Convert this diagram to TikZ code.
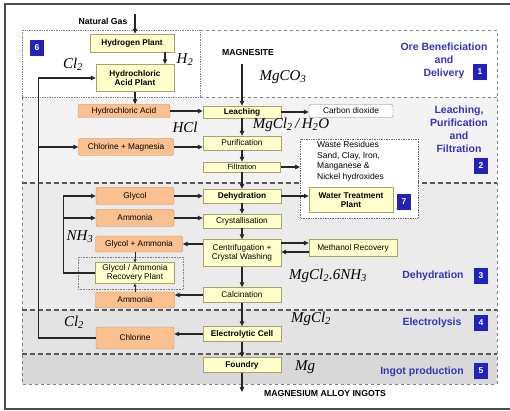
\documentclass[tikz,border=0pt]{standalone}
\usepackage{fontspec}
\setmainfont{Liberation Sans}
\newfontfamily\chemfont{Liberation Serif}
\usepackage{tikz}
\usetikzlibrary{arrows.meta}

\definecolor{boxyellow}{HTML}{FFFFCC}
\definecolor{boxedge}{HTML}{A8A070}
\definecolor{boxorange}{HTML}{FAC090}
\definecolor{orangeedge}{HTML}{C8884E}
\definecolor{badgeblue}{HTML}{2222BB}
\definecolor{titleblue}{HTML}{3535BB}
\definecolor{regtwo}{HTML}{F3F3F3}
\definecolor{regthree}{HTML}{EBEBEB}
\definecolor{regfour}{HTML}{E3E3E3}
\definecolor{regfive}{HTML}{D8D8D8}

\newcommand{\chem}[1]{{\chemfont\itshape\fontsize{15}{15}\selectfont #1}}

\tikzset{
  ybox/.style={draw=boxedge, fill=boxyellow, inner sep=0pt, align=center,
    font=\fontsize{8.3}{9.5}\selectfont},
  boldbox/.style={ybox, font=\bfseries\fontsize{8.3}{9.5}\selectfont},
  obox/.style={draw=orangeedge, fill=boxorange, rounded corners=2pt, inner sep=0pt,
    align=center, font=\fontsize{8.3}{9.5}\selectfont},
  badge/.style={fill=badgeblue, text=white, inner sep=0pt, minimum width=14,
    minimum height=16, font=\bfseries\fontsize{8.5}{8.5}\selectfont},
  regtitle/.style={text=titleblue, align=center, font=\bfseries\fontsize{10.5}{13}\selectfont},
  flow/.style={-{Triangle[length=5pt,width=4.5pt]}, line width=1.1pt, black!85},
  smallflow/.style={-{Triangle[length=3pt,width=3pt]}, line width=0.7pt, black!85},
  regline/.style={dashed, gray, line width=0.7pt},
  darkline/.style={dash pattern=on 5pt off 3pt, black!65, line width=1.1pt},
  plainlabel/.style={font=\bfseries\fontsize{8.7}{10}\selectfont}
}

\begin{document}
\begin{tikzpicture}[x=1pt, y=-1pt]
\useasboundingbox (0,0) rectangle (510,411);

% regions
\fill[regtwo] (22,97) rectangle (497,183);
\fill[regthree] (22,183) rectangle (497,310);
\fill[regfour] (22,310) rectangle (497,354);
\fill[regfive] (22,354) rectangle (497,384);
\draw[densely dotted, gray, line width=0.7pt] (22,30) rectangle (200,97);
\draw[regline] (200,30) -- (497,30) -- (497,384) -- (22,384) -- (22,97);
\draw[regline] (200,97) -- (497,97);
\draw[darkline] (22,183) -- (497,183);
\draw[darkline] (22,310) -- (497,310);
\draw[darkline] (22,354) -- (497,354);
\draw[line width=1.4pt, black!70] (510,4) -- (5,4) -- (5,409) -- (510,409);

% region titles
\node[regtitle] (t1) at (444,61) {Ore Beneficiation\\and\\Delivery};
\node[regtitle] (t2) at (459,129) {Leaching,\\Purification\\and\\Filtration};
\node[regtitle] (t3) at (433,276) {Dehydration};
\node[regtitle] (t4) at (432,323) {Electrolysis};
\node[regtitle] (t5) at (422,372) {Ingot production};
\node[badge] (b1) at (480,72) {1};
\node[badge] (b2) at (481,166) {2};
\node[badge] (b3) at (481,276) {3};
\node[badge] (b4) at (481,323) {4};
\node[badge] (b5) at (481,371) {5};
\node[badge] (b6) at (37,48) {6};

% main column
\node[boldbox, minimum width=78, minimum height=12] (leach) at (242,112) {Leaching};
\node[ybox, minimum width=78, minimum height=14] (purif) at (242,143) {Purification};
\node[ybox, font=\fontsize{7.5}{8.5}\selectfont, minimum width=77, minimum height=10] (filt) at (242,167) {Filtration};
\node[boldbox, minimum width=78, minimum height=14] (dehyd) at (242,196) {Dehydration};
\node[ybox, minimum width=78, minimum height=14] (cryst) at (242,221) {Crystallisation};
\node[ybox, minimum width=78, minimum height=27] (centri) at (242,253) {Centrifugation +\\Crystal Washing};
\node[ybox, minimum width=78, minimum height=15] (calc) at (242,295) {Calcination};
\node[boldbox, minimum width=78, minimum height=15] (elec) at (242,334) {Electrolytic Cell};
\node[boldbox, minimum width=78, minimum height=15] (foundry) at (242,365) {Foundry};

% hydrogen and acid
\node[plainlabel] (gas) at (103,21) {Natural Gas};
\coordinate (gasin) at (135,14);
\node[boldbox, minimum width=84, minimum height=18] (h2plant) at (132,43) {Hydrogen Plant};
\node[boldbox, minimum width=78, minimum height=27] (hclplant) at (135,78) {Hydrochloric\\Acid Plant};
\node[obox, minimum width=92, minimum height=13] (hclacid) at (124,111) {Hydrochloric Acid};
\node[obox, minimum width=95, minimum height=17] (chlmag) at (126,147) {Chlorine + Magnesia};
\node[draw=gray, fill=white, rounded corners=2pt, inner sep=0pt, minimum width=84, minimum height=13,
  font=\fontsize{8.3}{9.5}\selectfont] (co2) at (351,111) {Carbon dioxide};

% magnesite
\node[plainlabel] (magnesite) at (248,53) {MAGNESITE};
\coordinate (magin) at (242,64);

% waste and water
\draw[densely dotted, black!60, fill=white, line width=0.7pt] (300,139) rectangle (418,218);
\node[anchor=north west, align=left, inner sep=0pt, font=\fontsize{8.5}{10.7}\selectfont] (waste) at (317,141)
  {Waste Residues\\Sand, Clay, Iron,\\Manganese \&\\Nickel hydroxides};
\coordinate (wasteedge) at (300,167);
\node[boldbox, minimum width=84, minimum height=25] (wtp) at (351,200) {Water Treatment\\Plant};
\node[badge] (b7) at (404,202) {7};
\node[ybox, minimum width=88, minimum height=17] (meth) at (353,248) {Methanol Recovery};

% glycol and ammonia
\node[obox, minimum width=78, minimum height=17] (glycol) at (135,196) {Glycol};
\node[obox, minimum width=78, minimum height=17] (ammonia1) at (135,218) {Ammonia};
\node[obox, minimum width=87, minimum height=16] (glyam) at (139,244) {Glycol + Ammonia};
\draw[densely dotted, gray, line width=0.6pt] (78,257) rectangle (183,289);
\node[ybox, minimum width=79, minimum height=21] (recov) at (135,273) {Glycol / Ammonia\\Recovery Plant};
\node[obox, minimum width=79, minimum height=16] (ammonia2) at (135,300) {Ammonia};
\node[obox, minimum width=78, minimum height=22] (chlorine) at (135,338) {Chlorine};
\coordinate (ingot) at (242,392);
\node[plainlabel] (ingots) at (325,394) {MAGNESIUM ALLOY INGOTS};

% chemical labels
\node (lh2) at (185,60) {\chem{H\textsubscript{2}}};
\node (lcl2a) at (73,64) {\chem{Cl\textsubscript{2}}};
\node (lmgco) at (283,77) {\chem{MgCO\textsubscript{3}}};
\node (lhcl) at (185,127) {\chem{HCl}};
\node (lmgh) at (291,125) {\chem{MgCl\textsubscript{2}\,/\,H\textsubscript{2}O}};
\node (lnh3) at (80,237) {\chem{NH\textsubscript{3}}};
\node (lmgnh) at (328,276) {\chem{MgCl\textsubscript{2}.6NH\textsubscript{3}}};
\node (lmgcl) at (311,319) {\chem{MgCl\textsubscript{2}}};
\node (lcl2b) at (74,322) {\chem{Cl\textsubscript{2}}};
\node (lmg) at (305,367) {\chem{Mg}};

% connectors
\draw[flow] (gasin) -- ([xshift=3pt]h2plant.north);
\draw[flow] ([xshift=33pt]h2plant.south) -- ([xshift=30pt]hclplant.north);
\draw[flow] (hclplant.south) -- (hclplant.south |- hclacid.north);
\draw[flow] (hclacid.east) -- (hclacid.east -| leach.west);
\draw[flow] (magin) -- (leach.north);
\draw[flow] (leach.east) -- (leach.east -| co2.west);
\draw[flow] (leach) -- (purif);
\draw[flow] (purif) -- (filt);
\draw[flow] (filt) -- (dehyd);
\draw[flow] (dehyd) -- (cryst);
\draw[flow] (cryst) -- (centri);
\draw[flow] (centri) -- (calc);
\draw[flow] (calc) -- (elec);
\draw[flow] (elec) -- (foundry);
\draw[flow] (foundry) -- (ingot);
\draw[flow] (chlmag.east) -- (chlmag.east -| purif.west);
\draw[flow] (filt.east) -- (wasteedge);
\draw[flow] (dehyd.east) -- (dehyd.east -| wtp.west);
\draw[flow] ([yshift=5pt]meth.west -| centri.east) -- ([yshift=5pt]meth.west);
\draw[flow] ([yshift=-4pt]meth.west) -- ([yshift=-4pt]meth.west -| centri.east);
\draw[flow] (glycol.east) -- (glycol.east -| dehyd.west);
\draw[flow] (ammonia1.east) -- (ammonia1.east -| cryst.west);
\draw[flow] (glyam.east -| centri.west) -- (glyam.east);
\draw[flow] (calc.west) -- (calc.west -| ammonia2.east);
\draw[flow] (elec.west) -- (elec.west -| chlorine.east);
\draw[smallflow] (glyam.south -| recov.north) -- (recov.north);
\draw[smallflow] (ammonia2.north) -- (recov.south);
\draw[flow] (recov.west) -- ++(-32,0) coordinate (glx) |- (glycol.west);
\draw[flow] (ammonia1.west -| glx) -- (ammonia1.west);
\draw[flow] (chlorine.west) -- ++(-57,0) coordinate (clx) |- (hclplant.west);
\draw[flow] (chlmag.west -| clx) -- (chlmag.west);
\end{tikzpicture}
\end{document}
